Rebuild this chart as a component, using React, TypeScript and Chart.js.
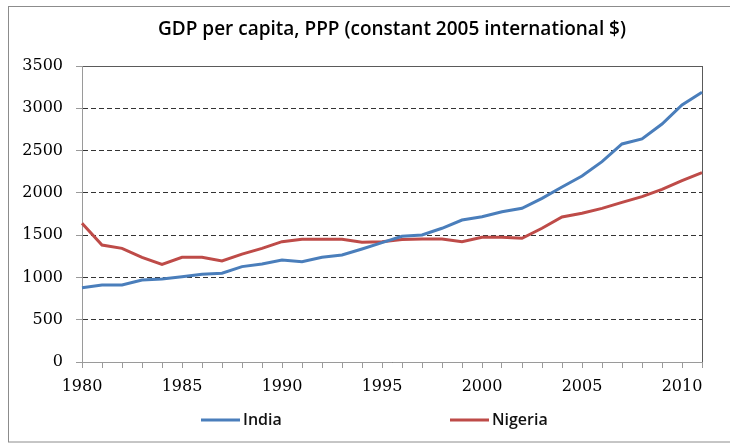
import React, { useEffect, useRef } from "react";
import { Chart, registerables } from "chart.js";

Chart.register(...registerables);

const years: string[] = [
  "1980", "1981", "1982", "1983", "1984", "1985", "1986", "1987", "1988", "1989",
  "1990", "1991", "1992", "1993", "1994", "1995", "1996", "1997", "1998", "1999",
  "2000", "2001", "2002", "2003", "2004", "2005", "2006", "2007", "2008", "2009",
  "2010", "2011",
];

const india: number[] = [
  879, 910, 910, 970, 981, 1009, 1037, 1049, 1128, 1159,
  1206, 1186, 1238, 1265, 1336, 1411, 1486, 1502, 1581, 1679,
  1718, 1777, 1817, 1935, 2070, 2199, 2369, 2578, 2637, 2814,
  3039, 3189,
];

const nigeria: number[] = [
  1640, 1383, 1344, 1238, 1155, 1238, 1238, 1194, 1275, 1344,
  1423, 1451, 1451, 1451, 1415, 1423, 1449, 1454, 1454, 1423,
  1474, 1474, 1462, 1581, 1715, 1758, 1817, 1888, 1955, 2042,
  2144, 2238,
];

const seriesNames: string[] = ["India", "Nigeria"];
const seriesColors: string[] = ["#4a7ebb", "#be4b48"];
const titleText = "GDP per capita, PPP (constant 2005 international $)";

const framePlugin = {
  id: "frameAndBorder",
  beforeDraw(chart: any) {
    const { ctx, chartArea } = chart;
    ctx.save();
    ctx.fillStyle = "#ffffff";
    ctx.fillRect(0, 0, chart.width, chart.height);
    ctx.strokeStyle = "#8c8c8c";
    ctx.lineWidth = 1;
    ctx.strokeRect(8.5, 6.5, 800, 435.5);
    ctx.strokeStyle = "#5a5a5a";
    ctx.strokeRect(
      Math.round(chartArea.left) + 0.5,
      Math.round(chartArea.top) + 0.5,
      Math.round(chartArea.right - chartArea.left),
      Math.round(chartArea.bottom - chartArea.top)
    );
    ctx.restore();
  },
};

const legendPlugin = {
  id: "spreadLegend",
  afterDraw(chart: any) {
    const { ctx, chartArea } = chart;
    const y = 420;
    const starts = [chartArea.left + 119, chartArea.left + 368];
    ctx.save();
    ctx.font = "600 16px 'Open Sans'";
    ctx.textBaseline = "middle";
    ctx.textAlign = "left";
    chart.data.datasets.forEach((ds: any, i: number) => {
      const x = starts[i];
      ctx.strokeStyle = ds.borderColor;
      ctx.lineWidth = 3;
      ctx.beginPath();
      ctx.moveTo(x, y);
      ctx.lineTo(x + 39, y);
      ctx.stroke();
      ctx.fillStyle = "#111";
      ctx.fillText(ds.label, x + 42, y);
    });
    ctx.restore();
  },
};

export default function App() {
  const canvasRef = useRef<HTMLCanvasElement | null>(null);

  useEffect(() => {
    if (!canvasRef.current) return;
    const chart = new Chart(canvasRef.current, {
      type: "line",
      data: {
        labels: years,
        datasets: [
          {
            label: seriesNames[0],
            data: india,
            borderColor: seriesColors[0],
            backgroundColor: seriesColors[0],
            borderWidth: 3,
            pointRadius: 0,
            tension: 0,
          },
          {
            label: seriesNames[1],
            data: nigeria,
            borderColor: seriesColors[1],
            backgroundColor: seriesColors[1],
            borderWidth: 3,
            pointRadius: 0,
            tension: 0,
          },
        ],
      },
      options: {
        animation: false,
        responsive: false,
        maintainAspectRatio: false,
        layout: { padding: { left: 0, right: 28, top: 0, bottom: 52 } },
        plugins: {
          legend: { display: false },
          tooltip: { enabled: false },
          title: {
            display: true,
            fullSize: false,
            text: titleText,
            color: "#000",
            font: { family: "'Open Sans'", size: 19, weight: "600", lineHeight: 1.2 },
            padding: { top: 18, bottom: 25.2 },
          },
        },
        scales: {
          x: {
            type: "category",
            offset: false,
            afterFit(scale: any) {
              scale.height = 30;
            },
            grid: {
              display: true,
              drawOnChartArea: false,
              drawTicks: true,
              tickLength: 6,
              tickColor: "#9a9a9a",
              offset: false,
            },
            border: { display: true, color: "#9a9a9a", width: 1 },
            ticks: {
              autoSkip: false,
              maxRotation: 0,
              minRotation: 0,
              padding: 9,
              color: "#000",
              font: { family: "'DejaVu Serif'", size: 16 },
              callback: function (this: any, val: any) {
                const lbl = this.getLabelForValue(val);
                return Number(lbl) % 5 === 0 ? lbl : "";
              },
            },
          },
          y: {
            min: 0,
            max: 3500,
            afterFit(scale: any) {
              scale.width = 82;
            },
            grid: {
              color: (ctx: any) =>
                ctx.tick && (ctx.tick.value === 0 || ctx.tick.value === 3500)
                  ? "rgba(0,0,0,0)"
                  : "#333333",
              lineWidth: 1,
              tickLength: 6,
              tickColor: "#9a9a9a",
              tickBorderDash: [],
              drawTicks: true,
            },
            border: { display: true, color: "#9a9a9a", width: 1, dash: [5, 3] },
            ticks: {
              stepSize: 500,
              padding: 13,
              color: "#000",
              font: { family: "'DejaVu Serif'", size: 16 },
              callback: (v: any) => String(v),
            },
          },
        },
      },
      plugins: [framePlugin, legendPlugin],
    });
    return () => chart.destroy();
  }, []);

  return (
    <div style={{ position: "fixed", left: 0, top: 0, width: 730, height: 444, background: "#fff" }}>
      <canvas ref={canvasRef} width={730} height={444} style={{ display: "block" }} />
    </div>
  );
}
